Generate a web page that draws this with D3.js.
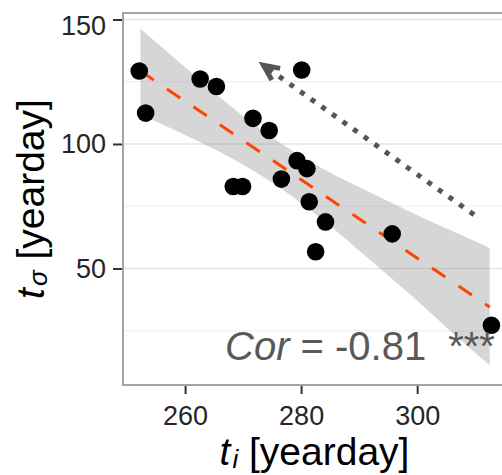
<!DOCTYPE html>
<html>
<head>
<meta charset="utf-8">
<script src="https://cdn.jsdelivr.net/npm/d3@7"></script>
<style>
  html, body { margin: 0; padding: 0; background: #ffffff; }
  svg { display: block; }
  text { font-family: "Liberation Sans", Arial, sans-serif; }
</style>
</head>
<body>
<div id="chart"></div>
<script>
// ---- data ----
const ti = [252.1, 253.2, 262.6, 265.4, 280.1, 271.7, 274.5, 279.3, 281.0, 276.6, 268.3, 269.9, 281.4, 284.2, 282.5, 295.7, 312.8];
const tsigma = [129.3, 112.4, 126.1, 123.1, 129.7, 110.3, 105.4, 93.3, 90.1, 85.9, 82.9, 82.9, 76.8, 68.7, 56.7, 63.9, 27.2];

// fitted line (ends) and its confidence band
const fitX = [252.3, 312.5];
const fitY = [129.3, 34.5];
const bandX = [252.3, 260, 268, 276, 284, 292, 300, 306, 312.5];
const bandLower = [111.8, 103.6, 94.3, 83.0, 69.0, 53.2, 37.0, 24.3, 11.1];
const bandUpper = [146.3, 130.8, 114.9, 101.0, 89.7, 80.4, 71.4, 65.1, 58.2];

// arrow (tail -> head) in data units
const arrowX = [309.8, 273.5];
const arrowY = [71.6, 131.6];

const xTicks = [260, 280, 300];
const yTicks = [50, 100, 150];
const yMinorTicks = [25, 75, 125];
const corLabel = ["Cor", " = -0.81", "***"];

// ---- layout ----
const W = 502, H = 475;
const panel = { left: 123, right: 510, top: 13, bottom: 385 };

const svg = d3.select("#chart").append("svg")
  .attr("width", W).attr("height", H);

const x = d3.scaleLinear().domain([249.3, 316]).range([panel.left, panel.right]);
const y = d3.scaleLinear().domain([3.2, 152.6]).range([panel.bottom, panel.top]);

const clip = svg.append("clipPath").attr("id", "pclip")
  .append("rect").attr("x", panel.left).attr("y", panel.top)
  .attr("width", panel.right - panel.left).attr("height", panel.bottom - panel.top);

const g = svg.append("g").attr("clip-path", "url(#pclip)");

// grid
g.selectAll("line.minor").data(yMinorTicks).enter().append("line")
  .attr("x1", panel.left).attr("x2", panel.right)
  .attr("y1", d => y(d)).attr("y2", d => y(d))
  .attr("stroke", "#f0f0f0").attr("stroke-width", 1.2);
g.selectAll("line.major").data(yTicks).enter().append("line")
  .attr("x1", panel.left).attr("x2", panel.right)
  .attr("y1", d => y(d)).attr("y2", d => y(d))
  .attr("stroke", "#e4e4e4").attr("stroke-width", 1.6);

// confidence band
const bandData = bandX.map((v, i) => ({ x: v, lo: bandLower[i], hi: bandUpper[i] }));
g.append("path").datum(bandData)
  .attr("d", d3.area().x(d => x(d.x)).y0(d => y(d.lo)).y1(d => y(d.hi)).curve(d3.curveMonotoneX))
  .attr("fill", "#999999").attr("fill-opacity", 0.4);

// fitted dashed line
g.append("line")
  .attr("x1", x(fitX[0])).attr("y1", y(fitY[0]))
  .attr("x2", x(fitX[1])).attr("y2", y(fitY[1]))
  .attr("stroke", "#FF4500").attr("stroke-width", 3)
  .attr("stroke-dasharray", "16,16");

// points
g.selectAll("circle.pt").data(ti.map((v, i) => [v, tsigma[i]])).enter().append("circle")
  .attr("cx", d => x(d[0])).attr("cy", d => y(d[1])).attr("r", 8.8)
  .attr("fill", "#000");

// arrow
const ax0 = x(arrowX[0]), ay0 = y(arrowY[0]), ax1 = x(arrowX[1]), ay1 = y(arrowY[1]);
g.append("line")
  .attr("x1", ax0).attr("y1", ay0).attr("x2", ax1).attr("y2", ay1)
  .attr("stroke", "#555555").attr("stroke-width", 5)
  .attr("stroke-dasharray", "5,8");
const ang = Math.atan2(ay0 - ay1, ax0 - ax1);
const headLen = 17, spread = 25 * Math.PI / 180;
const hp = [
  [ax1 + headLen * Math.cos(ang - spread), ay1 + headLen * Math.sin(ang - spread)],
  [ax1, ay1],
  [ax1 + headLen * Math.cos(ang + spread), ay1 + headLen * Math.sin(ang + spread)]
];
g.append("path").attr("d", d3.line()(hp))
  .attr("fill", "none").attr("stroke", "#555555").attr("stroke-width", 5)
  .attr("stroke-linejoin", "miter");

// correlation label
const cor = g.append("text").attr("x", 225).attr("y", 360)
  .attr("font-size", 40).attr("fill", "#595959");
cor.append("tspan").attr("font-style", "italic").text(corLabel[0]);
cor.append("tspan").text(corLabel[1]);
cor.append("tspan").attr("dx", 22).text(corLabel[2]);

// panel border
svg.append("rect")
  .attr("x", panel.left).attr("y", panel.top)
  .attr("width", panel.right - panel.left).attr("height", panel.bottom - panel.top)
  .attr("fill", "none").attr("stroke", "#a3a3a3").attr("stroke-width", 2);

// axes
const yAxis = svg.append("g").attr("transform", `translate(${panel.left - 1},0)`)
  .call(d3.axisLeft(y).tickValues(yTicks).tickSize(9).tickPadding(7).tickFormat(d3.format("d")));
const xAxis = svg.append("g").attr("transform", `translate(0,${panel.bottom + 1})`)
  .call(d3.axisBottom(x).tickValues(xTicks).tickSize(8).tickPadding(12).tickFormat(d3.format("d")));
[yAxis, xAxis].forEach(a => {
  a.select(".domain").remove();
  a.selectAll(".tick line").attr("stroke", "#333333").attr("stroke-width", 2);
  a.selectAll(".tick text").attr("font-size", 27).attr("fill", "#262626")
    .attr("font-family", "Liberation Sans, Arial, sans-serif");
});
yAxis.selectAll(".tick text").filter(d => d === 150).attr("dy", "0.55em");

// axis titles
const xt = svg.append("text").attr("x", (panel.left + panel.right) / 2 - 2).attr("y", 465)
  .attr("text-anchor", "middle").attr("font-size", 39).attr("fill", "#000");
xt.append("tspan").attr("font-style", "italic").text("t");
xt.append("tspan").attr("font-style", "italic").attr("font-size", 26).attr("dx", 2).attr("dy", 3).text("i");
xt.append("tspan").attr("dy", -3).text("\u00a0[yearday]");

const yt = svg.append("text").attr("transform", `translate(44,${(panel.top + panel.bottom) / 2}) rotate(-90)`)
  .attr("text-anchor", "middle").attr("font-size", 39).attr("fill", "#000");
yt.append("tspan").attr("font-style", "italic").text("t");
yt.append("tspan").attr("font-style", "italic").attr("font-size", 26).attr("dx", 2).attr("dy", 3).text("σ");
yt.append("tspan").attr("dy", -3).text("\u00a0[yearday]");
</script>
</body>
</html>
